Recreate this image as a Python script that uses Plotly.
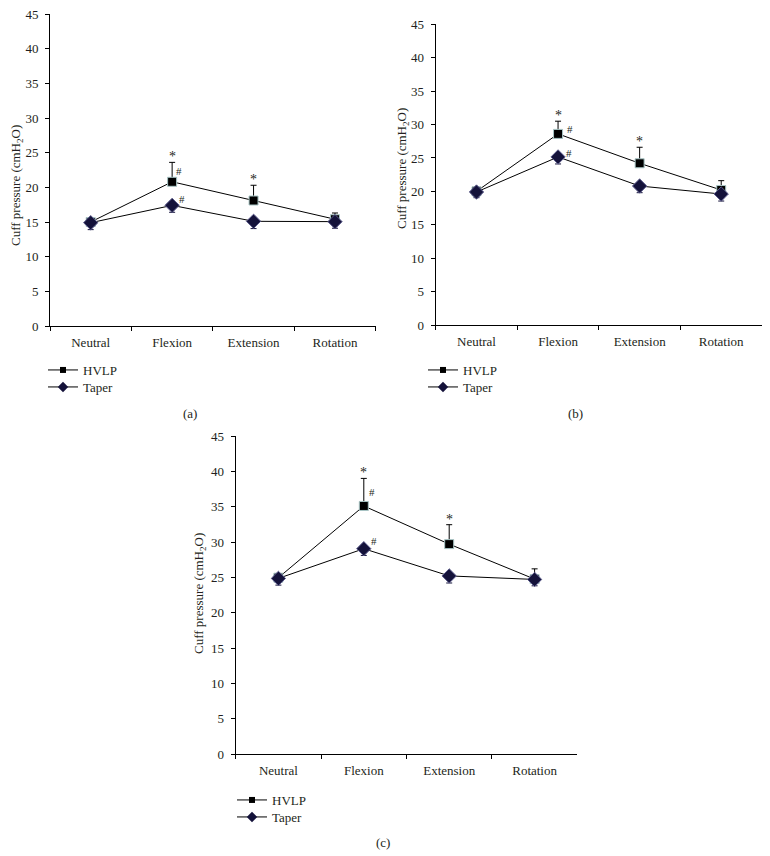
import plotly.graph_objects as go

categories = ["Neutral", "Flexion", "Extension", "Rotation"]

hvlp_a = [15.0, 20.8, 18.1, 15.4]
hvlp_a_err = [0.6, 2.8, 2.2, 0.9]
taper_a = [14.9, 17.4, 15.1, 15.05]
taper_a_err = [1.0, 1.0, 1.05, 0.95]

hvlp_b = [20.0, 28.6, 24.2, 20.2]
hvlp_b_err = [0.5, 1.9, 2.4, 1.4]
taper_b = [19.9, 25.15, 20.8, 19.6]
taper_b_err = [0.85, 1.05, 1.0, 1.05]

hvlp_c = [24.95, 35.1, 29.7, 24.75]
hvlp_c_err = [0.5, 3.9, 2.75, 1.45]
taper_c = [24.85, 29.05, 25.2, 24.7]
taper_c_err = [0.95, 0.95, 1.0, 0.9]

y_ticks = [0, 5, 10, 15, 20, 25, 30, 35, 40, 45]
series_names = ["HVLP", "Taper"]
captions = ["(a)", "(b)", "(c)"]
y_title = "Cuff pressure (cmH<sub>2</sub>O)"

# the page body has an 8px margin, so the figure starts at (8, 8)
OFF = 8
W, H = 762, 848
FONT = "Liberation Serif"
TXT = "#231f20"

def px(x):
    return (x - OFF) / W

def py(y):
    return 1 - (y - OFF) / H

panels = [
    dict(h=hvlp_a, he=hvlp_a_err, t=taper_a, te=taper_a_err,
         xd=[px(50), px(375.7)], yd=[py(326), py(14)],
         title_xy=(17, 186), leg=(43, 370), cap=(190, 413),
         hs=[(5, 11), (8, 6)]),
    dict(h=hvlp_b, he=hvlp_b_err, t=taper_b, te=taper_b_err,
         xd=[px(435.7), px(762)], yd=[py(325), py(24.3)],
         title_xy=(402, 169), leg=(423, 370), cap=(575, 413),
         hs=[(10, 5), (9, 4)]),
    dict(h=hvlp_c, he=hvlp_c_err, t=taper_c, te=taper_c_err,
         xd=[px(235.7), px(577.3)], yd=[py(754), py(436)],
         title_xy=(199, 594), leg=(232, 800), cap=(383, 842),
         hs=[(6, 14), (8, 8)]),
]

fig = go.Figure()
annotations = []
layout_extra = {}
leg_count = 0

for i, p in enumerate(panels):
    n = i + 1
    xa = "x" if n == 1 else f"x{n}"
    ya = "y" if n == 1 else f"y{n}"
    fig.add_trace(go.Scatter(
        x=categories, y=p["h"], name=series_names[0], mode="lines+markers",
        xaxis=xa, yaxis=ya, showlegend=False,
        line=dict(color="black", width=1),
        marker=dict(symbol="square", size=9, color="black",
                    line=dict(color="#a9c6c6", width=1)),
        error_y=dict(type="data", symmetric=False, array=p["he"],
                     arrayminus=[0] * len(p["he"]), color="black",
                     thickness=1, width=3),
    ))
    fig.add_trace(go.Scatter(
        x=categories, y=p["t"], name=series_names[1], mode="lines+markers",
        xaxis=xa, yaxis=ya, showlegend=False,
        line=dict(color="black", width=1),
        marker=dict(symbol="diamond", size=11, color="#14123a",
                    line=dict(color="#5a5a8a", width=1)),
        error_y=dict(type="data", symmetric=False, array=[0] * len(p["te"]),
                     arrayminus=p["te"], color="#14123a",
                     thickness=1, width=3),
    ))
    # legend-only entries (small symbols, as in the original key),
    # each in its own legend box so the row spacing can be matched
    leg_markers = [dict(symbol="square", size=6, color="black"),
                   dict(symbol="diamond", size=8, color="#14123a")]
    for j in range(2):
        leg_count += 1
        lg = "legend" if leg_count == 1 else f"legend{leg_count}"
        fig.add_trace(go.Scatter(
            x=[None], y=[None], name=series_names[j], mode="lines+markers",
            xaxis=xa, yaxis=ya, legend=lg,
            line=dict(color="black", width=1), marker=leg_markers[j]))
        layout_extra[lg] = dict(
            x=px(p["leg"][0]), y=py(p["leg"][1] + 17 * j), xanchor="left",
            yanchor="middle", bgcolor="rgba(0,0,0,0)",
            font=dict(family=FONT, size=13, color=TXT), itemwidth=30)

    axis_common = dict(showline=True, linecolor="black", linewidth=1,
                       showgrid=False, zeroline=False, ticks="outside",
                       ticklen=4, tickcolor="black",
                       tickfont=dict(family=FONT, size=13, color=TXT))
    layout_extra["xaxis" if n == 1 else f"xaxis{n}"] = dict(
        domain=p["xd"], anchor=ya, type="category",
        categoryorder="array", categoryarray=categories,
        tickson="boundaries", range=[-0.5, 3.5], ticklabelstandoff=4,
        **axis_common)
    layout_extra["yaxis" if n == 1 else f"yaxis{n}"] = dict(
        domain=p["yd"], anchor=xa, range=[0, 45], tickvals=y_ticks,
        ticklabelstandoff=4, ticklabeloverflow="allow", **axis_common)
    annotations.append(dict(text=y_title, xref="paper", yref="paper",
                            x=px(p["title_xy"][0]), y=py(p["title_xy"][1]),
                            xanchor="center", yanchor="middle",
                            textangle=-90, showarrow=False,
                            font=dict(family=FONT, size=13, color=TXT)))
    annotations.append(dict(text=captions[i], xref="paper", yref="paper",
                            x=px(p["cap"][0]), y=py(p["cap"][1]),
                            xanchor="center", yanchor="middle",
                            showarrow=False,
                            font=dict(family=FONT, size=13, color=TXT)))
    for k in (1, 2):
        annotations.append(dict(text="*", xref=xa, yref=ya, x=categories[k],
                                y=p["h"][k] + p["he"][k], yanchor="bottom",
                                yshift=-4, showarrow=False,
                                font=dict(family=FONT, size=14, color=TXT)))
    annotations.append(dict(text="#", xref=xa, yref=ya, x=categories[1],
                            y=p["h"][1], xshift=p["hs"][0][0] + 2,
                            yshift=p["hs"][0][1], showarrow=False,
                            font=dict(family=FONT, size=11, color=TXT)))
    annotations.append(dict(text="#", xref=xa, yref=ya, x=categories[1],
                            y=p["t"][1], xshift=p["hs"][1][0] + 2,
                            yshift=p["hs"][1][1], showarrow=False,
                            font=dict(family=FONT, size=11, color=TXT)))

fig.update_layout(
    width=W, height=H,
    margin=dict(l=0, r=0, t=0, b=0, pad=0, autoexpand=False),
    paper_bgcolor="white", plot_bgcolor="white", showlegend=True,
    annotations=annotations, **layout_extra)

fig.write_html("out.html")
